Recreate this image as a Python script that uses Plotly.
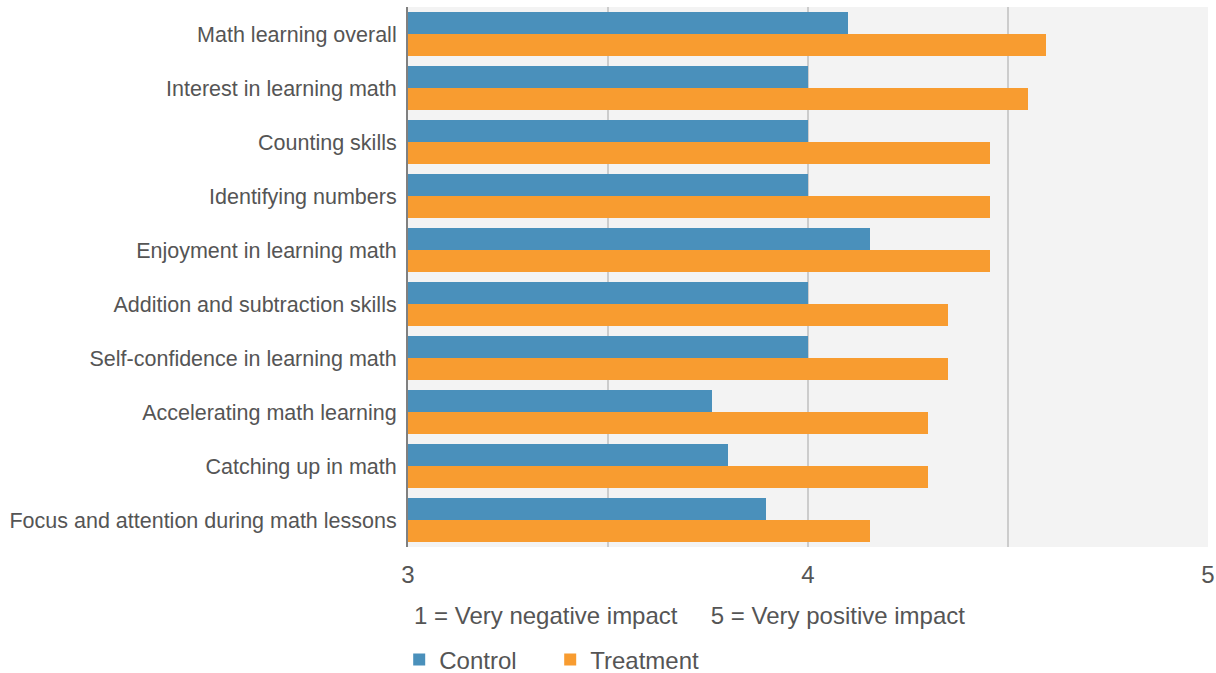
import plotly.graph_objects as go

categories = [
    "Math learning overall",
    "Interest in learning math",
    "Counting skills",
    "Identifying numbers",
    "Enjoyment in learning math",
    "Addition and subtraction skills",
    "Self-confidence in learning math",
    "Accelerating math learning",
    "Catching up in math",
    "Focus and attention during math lessons",
]
control = [4.10, 4.00, 4.00, 4.00, 4.155, 4.00, 4.00, 3.76, 3.80, 3.895]
treatment = [4.595, 4.55, 4.455, 4.455, 4.455, 4.35, 4.35, 4.30, 4.30, 4.155]
tick_vals = [3, 3.5, 4, 4.5, 5]
tick_text = ["3", "", "4", "", "5"]
scale_note = "1 = Very negative impact     5 = Very positive impact"

FONT = "Liberation Sans, Arial, sans-serif"
TXT = "#555555"

fig = go.Figure()
fig.add_trace(go.Bar(y=categories, x=control, name="Control", orientation="h",
                     base=0, marker=dict(color="#4a90bb", line=dict(width=0))))
fig.add_trace(go.Bar(y=categories, x=treatment, name="Treatment", orientation="h",
                     base=0, marker=dict(color="#f89c30", line=dict(width=0))))

fig.update_layout(
    width=1216, height=673,
    margin=dict(l=408, r=8, t=7, b=126, autoexpand=False),
    barmode="group", bargap=0.185, bargroupgap=0,
    plot_bgcolor="#f3f3f3", paper_bgcolor="white",
    font=dict(family=FONT, color=TXT, size=21.5),
    showlegend=True,
    legend=dict(orientation="h", x=-0.011, xanchor="left", y=-0.209, yanchor="middle",
                font=dict(size=24, color=TXT), traceorder="normal",
                itemwidth=30, entrywidth=106, bgcolor="rgba(0,0,0,0)"),
    annotations=[dict(text=scale_note, xref="paper", yref="paper", x=0.005, y=-0.126,
                      xanchor="left", yanchor="middle", showarrow=False,
                      font=dict(size=24, color=TXT))],
)
fig.update_xaxes(range=[3, 5], tickvals=tick_vals, ticktext=tick_text,
                 showgrid=True, gridcolor="#cccccc", gridwidth=2,
                 zeroline=False, showline=False, ticks="", automargin=False,
                 tickfont=dict(size=24, color=TXT), ticklabelstandoff=11)
fig.update_yaxes(autorange="reversed", showgrid=False, showline=True,
                 linecolor="#808080", linewidth=2, ticks="", automargin=False,
                 tickfont=dict(size=21.5, color=TXT), ticklabelstandoff=5)

fig.write_html("out.html", config={"displayModeBar": False},
               post_script="document.body.style.margin='0';")
